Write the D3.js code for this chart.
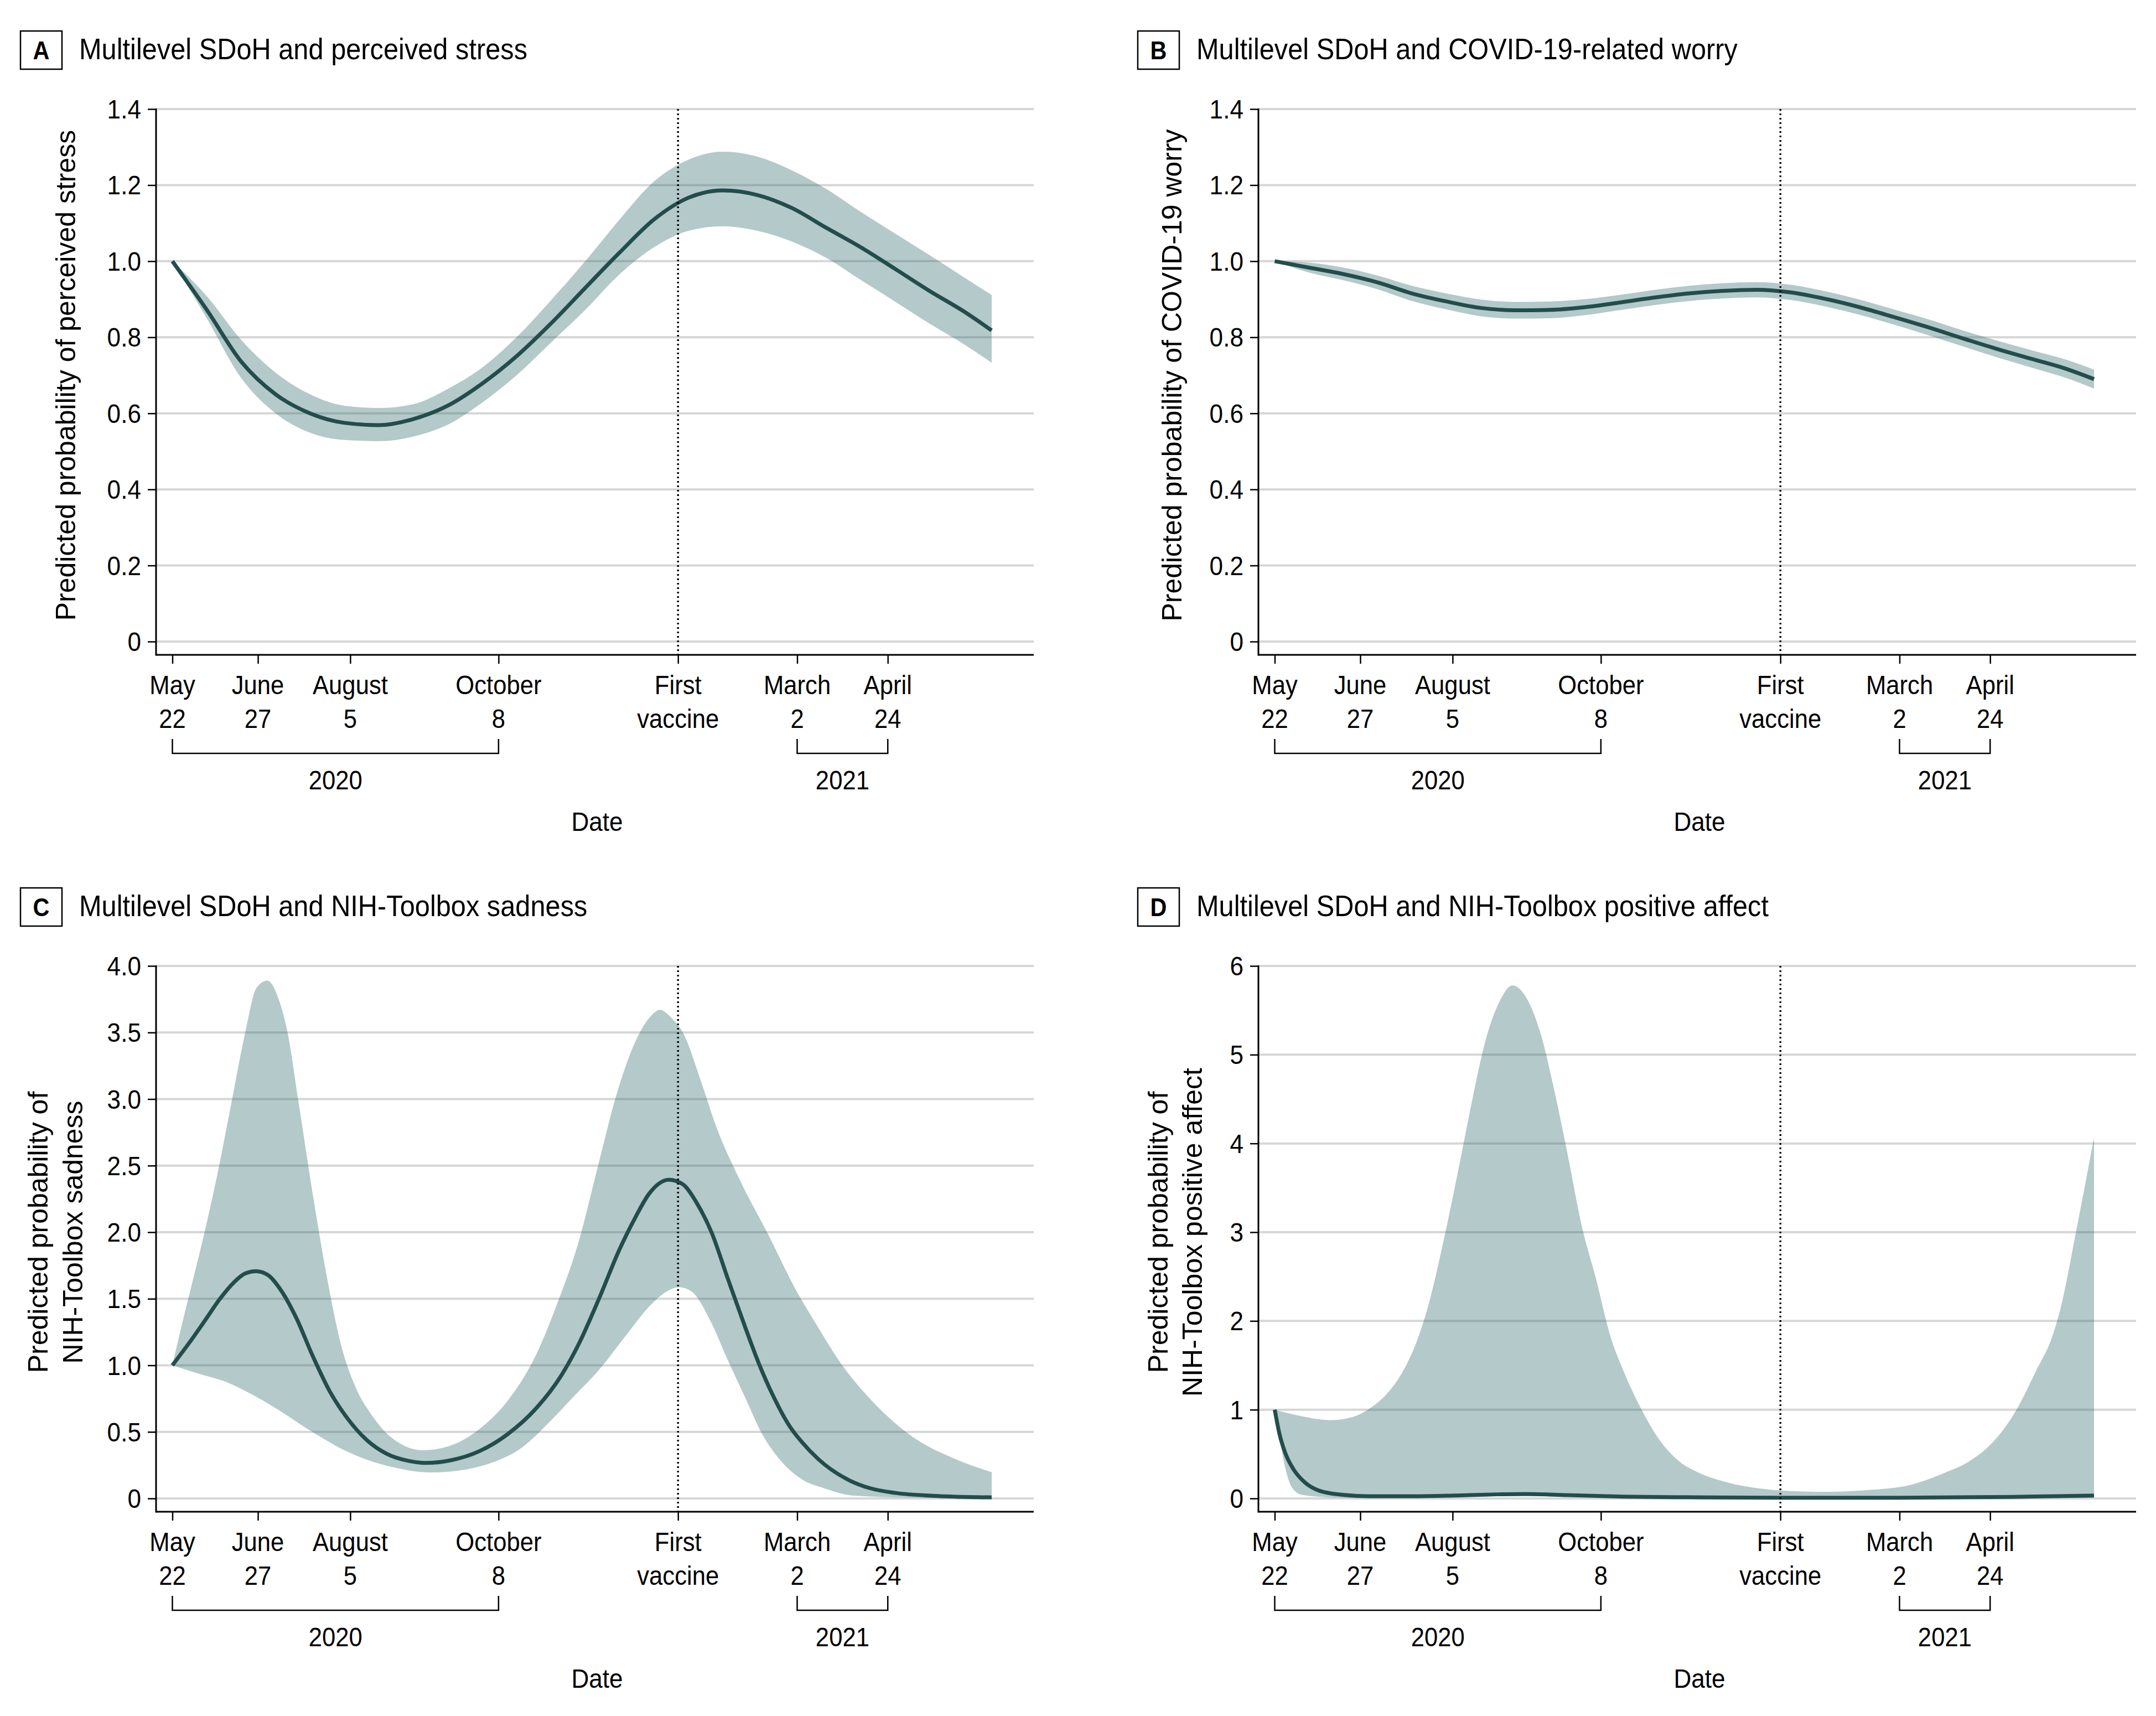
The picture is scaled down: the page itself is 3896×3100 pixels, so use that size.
<!DOCTYPE html>
<html><head><meta charset="utf-8">
<script src="https://cdn.jsdelivr.net/npm/d3@7"></script>
<style>body{margin:0;background:#fff}svg{display:block}</style>
</head><body><svg id="c"></svg>
<script>
// ---------- shared axis data ----------
const tickLabels = [["May","22"],["June","27"],["August","5"],["October","8"],["First","vaccine"],["March","2"],["April","24"]];
const tickPos = [0,10.44,21.71,39.81,61.72,76.26,87.32];
const vaccineT = 61.72;
const years = [{label:"2020", from:0, to:3},{label:"2021", from:5, to:6}];

// ---------- Panel A: perceived stress ----------
const tA = [0,4.2,8.4,12.6,16.8,21,25.2,29.4,33.6,37.8,42,46.2,50.4,54.6,58.8,63,67.2,71.4,75.6,79.8,84,88.2,92.4,96.6,100];
const lineA = [1.0,0.872,0.736,0.65,0.60,0.575,0.569,0.585,0.62,0.678,0.75,0.836,0.93,1.023,1.11,1.167,1.186,1.174,1.14,1.088,1.037,0.98,0.922,0.868,0.818];
const upperA = [1.0,0.908,0.793,0.707,0.65,0.62,0.614,0.624,0.664,0.72,0.80,0.897,1.0,1.11,1.21,1.267,1.288,1.275,1.239,1.19,1.13,1.073,1.016,0.958,0.911];
const lowerA = [1.0,0.85,0.693,0.60,0.549,0.53,0.527,0.539,0.57,0.628,0.70,0.786,0.872,0.966,1.037,1.08,1.092,1.08,1.052,1.009,0.951,0.894,0.836,0.782,0.733];
const yTicksA = [0,0.2,0.4,0.6,0.8,1.0,1.2,1.4];

// ---------- Panel B: COVID-19 worry ----------
const tB = tA;
const lineB = [1.0,0.983,0.966,0.944,0.915,0.894,0.877,0.871,0.872,0.879,0.891,0.904,0.915,0.922,0.925,0.918,0.901,0.879,0.853,0.826,0.797,0.769,0.743,0.717,0.69];
const upperB = [1.0,0.996,0.983,0.962,0.935,0.915,0.899,0.893,0.894,0.9,0.911,0.924,0.935,0.942,0.945,0.938,0.921,0.899,0.873,0.847,0.818,0.791,0.766,0.741,0.715];
const lowerB = [1.0,0.97,0.95,0.926,0.895,0.873,0.855,0.849,0.85,0.858,0.871,0.884,0.895,0.902,0.905,0.898,0.881,0.859,0.833,0.805,0.776,0.747,0.72,0.693,0.665];
const yTicksB = [0,0.2,0.4,0.6,0.8,1.0,1.2,1.4];

// ---------- Panel C: sadness ----------
const tCline = [0,2.0,4.07,5.79,7.51,8.89,10.2,11.65,13.37,15.1,17.16,19.23,21.3,23.7,26.1,28.9,30.9,34.0,37.5,40.9,44.4,47.5,49.6,52.0,54.6,56.5,58.2,60.6,62.3,64.0,65.8,67.8,69.9,71.6,73.3,75.4,76.8,78.9,82.7,85.1,88.2,93.3,100];
const lineC = [1.0,1.164,1.345,1.498,1.623,1.69,1.707,1.679,1.553,1.359,1.066,0.802,0.607,0.44,0.337,0.281,0.267,0.287,0.356,0.482,0.677,0.927,1.16,1.49,1.874,2.11,2.29,2.394,2.36,2.22,2.0,1.65,1.289,1.011,0.774,0.537,0.426,0.292,0.134,0.078,0.042,0.019,0.008];
const tCupper = [0,1.14,2.34,3.89,5.44,7.17,8.89,10.27,11.58,13.03,14.06,15.44,17.33,18.9,20.6,22.3,24.4,26.8,30.6,34.0,37.5,40.9,44.4,47.1,49.6,52.0,54.1,56.5,58.5,59.5,60.9,62.3,64.7,66.4,69.2,72.7,76.1,78.5,81.96,85.4,89.9,95.7,100];
const upperC = [1.0,1.30,1.60,1.99,2.42,2.96,3.50,3.836,3.89,3.74,3.50,2.96,2.21,1.65,1.15,0.844,0.621,0.454,0.362,0.398,0.523,0.732,1.08,1.484,1.93,2.51,3.01,3.43,3.63,3.67,3.61,3.50,3.10,2.79,2.40,1.985,1.567,1.317,0.983,0.732,0.482,0.292,0.198];
const tClower = [0,3.03,6.48,9.92,13.37,16.8,20.3,23.7,27.2,31.6,35.8,39.2,42.7,46.1,48.9,52.0,55.3,58.2,60.3,61.8,63.4,65.8,67.8,69.9,72.0,74.4,77.1,79.5,83.0,89.9,100];
const lowerC = [1.0,0.941,0.877,0.774,0.649,0.51,0.384,0.292,0.231,0.195,0.217,0.273,0.384,0.579,0.76,0.96,1.219,1.442,1.553,1.587,1.553,1.317,1.038,0.76,0.482,0.273,0.134,0.078,0.022,0.006,0.0];
const yTicksC = [0,0.5,1.0,1.5,2.0,2.5,3.0,3.5,4.0];

// ---------- Panel D: positive affect ----------
const tDline = [0,0.59,1.28,2.31,3.69,5.41,8.17,11.6,16.8,22.0,27.1,30.6,35.7,42.6,51.9,62.2,76,89.8,95,100];
const lineD = [1.0,0.723,0.514,0.326,0.18,0.088,0.042,0.025,0.025,0.033,0.046,0.05,0.038,0.021,0.013,0.008,0.008,0.017,0.025,0.033];
const tDupper = [0,3.0,6.79,9.55,11.6,13.7,15.75,17.5,18.85,20.6,22.3,24.0,25.7,27.5,29.0,30.9,32.6,34.0,35.7,37.5,39.2,40.9,42.6,44.7,46.8,49.5,51.9,55.3,58.8,62.2,67.4,72.6,77.7,82.2,84.6,87.7,90.5,92.9,95.0,95.8,97.9,100];
const upperD = [1.0,0.932,0.882,0.919,1.015,1.18,1.45,1.81,2.21,2.90,3.65,4.44,5.15,5.61,5.78,5.61,5.19,4.65,3.90,3.06,2.48,1.85,1.43,1.015,0.681,0.409,0.284,0.18,0.117,0.088,0.075,0.096,0.155,0.305,0.409,0.639,0.994,1.433,1.85,2.10,3.05,4.07];
const tDlower = [0,0.59,1.28,2.14,3.34,6.44,11.6,16.8,22.0,27.1,30.6,35.7,42.6,51.9,62.2,76,89.8,95,100];
const lowerD = [1.0,0.68,0.347,0.117,0.04,0.013,0.004,0.01,0.015,0.025,0.028,0.02,0.008,0.003,0.002,0.002,0.004,0.006,0.01];
const yTicksD = [0,1,2,3,4,5,6];

// ---------- layout ----------
const W = 3896, H = 3100;
const FONT = "'Liberation Sans', Arial, Helvetica, sans-serif";
const BAND = "rgb(40,100,100)", LINE = "#234d4d";
const fmt1 = d => d === 0 ? "0" : d.toFixed(1);
const SX = 0.9;       // horizontal condensing of label text
const SX_T = 0.92;    // horizontal condensing of titles

const panels = [
  {letter:"A", title:"Multilevel SDoH and perceived stress", ylab:["Predicted probability of perceived stress"],
   col:0, row:0, yMax:1.4, yTicks:yTicksA, fmt:fmt1,
   line:[tA,lineA], upper:[tA,upperA], lower:[tA,lowerA]},
  {letter:"B", title:"Multilevel SDoH and COVID-19-related worry", ylab:["Predicted probability of COVID-19 worry"],
   col:1, row:0, yMax:1.4, yTicks:yTicksB, fmt:fmt1,
   line:[tB,lineB], upper:[tB,upperB], lower:[tB,lowerB]},
  {letter:"C", title:"Multilevel SDoH and NIH-Toolbox sadness", ylab:["Predicted probability of","NIH-Toolbox sadness"],
   col:0, row:1, yMax:4.0, yTicks:yTicksC, fmt:fmt1,
   line:[tCline,lineC], upper:[tCupper,upperC], lower:[tClower,lowerC]},
  {letter:"D", title:"Multilevel SDoH and NIH-Toolbox positive affect", ylab:["Predicted probability of","NIH-Toolbox positive affect"],
   col:1, row:1, yMax:6, yTicks:yTicksD, fmt:d3.format("d"),
   line:[tDline,lineD], upper:[tDupper,upperD], lower:[tDlower,lowerD]}
];

const colGeom = [
  {axisX:282, boxX:37, titleX:143, ylab1:[136], ylab2:[86,149]},
  {axisX:2274, boxX:2056, titleX:2162, ylab1:[2135], ylab2:[2110,2172]}
];
const ROW_OFF = [0, 1548];

const svg = d3.select("#c").attr("width", W).attr("height", H)
  .attr("viewBox", `0 0 ${W} ${H}`).style("font-family", FONT);
svg.append("rect").attr("width", W).attr("height", H).attr("fill", "#fff");

function pts(series){ return series[0].map((t,i)=>[t, series[1][i]]); }
function label(g, x, y, s, size, anchor, sx){
  return g.append("text").attr("transform", `translate(${x},${y}) scale(${sx},1)`)
    .attr("text-anchor", anchor).attr("font-size", size).attr("fill", "#000").text(s);
}

panels.forEach(p => {
  const cg = colGeom[p.col], oy = ROW_OFF[p.row];
  const g = svg.append("g");
  const axisX = cg.axisX, rightX = axisX + 1586;
  const topY = 197 + oy, zeroY = 1159 + oy, axisY = 1183 + oy;

  const x = d3.scaleLinear().domain([0,100]).range([axisX + 29.5, axisX + 1510]);
  const y = d3.scaleLinear().domain([0,p.yMax]).range([zeroY, topY]);

  // title box + title
  g.append("rect").attr("x", cg.boxX).attr("y", 56 + oy).attr("width", 75).attr("height", 69)
    .attr("fill", "none").attr("stroke", "#000").attr("stroke-width", 2.5);
  label(g, cg.boxX + 37.5, 107 + oy, p.letter, 46, "middle", 0.9).attr("font-weight", "bold");
  label(g, cg.titleX, 107 + oy, p.title, 53, "start", SX_T);

  // gridlines
  g.append("g").selectAll("line").data(p.yTicks).join("line")
    .attr("x1", axisX).attr("x2", rightX).attr("y1", d => y(d)).attr("y2", d => y(d))
    .attr("stroke", "#d6d6d6").attr("stroke-width", 4);

  // band
  const lg = d3.line().x(d => x(d[0])).y(d => y(d[1])).curve(d3.curveMonotoneX);
  const up = pts(p.upper), lo = pts(p.lower).reverse();
  g.append("path").attr("d", lg(up) + "L" + lg(lo).slice(1) + "Z")
    .attr("fill", BAND).attr("fill-opacity", 0.35).attr("stroke", "none");

  // estimate line
  g.append("path").attr("d", lg(pts(p.line))).attr("fill", "none")
    .attr("stroke", LINE).attr("stroke-width", 7).attr("stroke-linejoin", "round");

  // vaccine dotted line
  g.append("line").attr("x1", x(vaccineT)).attr("x2", x(vaccineT)).attr("y1", topY).attr("y2", axisY)
    .attr("stroke", "#000").attr("stroke-width", 3.5).attr("stroke-dasharray", "3,5");

  // y axis ticks (via axis generator) + labels
  const ya = g.append("g").attr("transform", `translate(${axisX},0)`)
    .call(d3.axisLeft(y).tickValues(p.yTicks).tickFormat("").tickSize(15));
  ya.select(".domain").remove();
  ya.selectAll(".tick line").attr("stroke", "#000").attr("stroke-width", 2.5);
  p.yTicks.forEach(d => label(g, axisX - 27, y(d) + 17, p.fmt(d), 48, "end", 0.92));
  g.append("line").attr("x1", axisX).attr("x2", axisX).attr("y1", topY - 1).attr("y2", axisY + 1.5)
    .attr("stroke", "#000").attr("stroke-width", 3);

  // x axis
  const xa = g.append("g").attr("transform", `translate(0,${axisY})`)
    .call(d3.axisBottom(x).tickValues(tickPos).tickFormat("").tickSize(16).tickSizeOuter(0));
  xa.select(".domain").remove();
  xa.selectAll(".tick line").attr("stroke", "#000").attr("stroke-width", 2.5);
  g.append("line").attr("x1", axisX).attr("x2", rightX).attr("y1", axisY).attr("y2", axisY)
    .attr("stroke", "#000").attr("stroke-width", 3);

  // two-line tick labels
  tickPos.forEach((t,i) => {
    tickLabels[i].forEach((s,j) => label(g, x(t), 1254 + j*61 + oy, s, 48.5, "middle", SX));
  });

  // year brackets
  years.forEach(yr => {
    const x0 = x(tickPos[yr.from]), x1 = x(tickPos[yr.to]);
    const by0 = 1335 + oy, by1 = 1361 + oy;
    g.append("path").attr("d", `M${x0},${by0}V${by1}H${x1}V${by0}`)
      .attr("fill", "none").attr("stroke", "#000").attr("stroke-width", 2.5);
    label(g, (x0 + x1)/2, 1426 + oy, yr.label, 48.5, "middle", SX);
  });

  // x axis title
  label(g, (axisX + rightX)/2 + 4, 1501 + oy, "Date", 49, "middle", SX);

  // y axis title
  const cy = (topY + zeroY)/2;
  const bases = p.ylab.length === 1 ? cg.ylab1 : cg.ylab2;
  p.ylab.forEach((s,i) => {
    g.append("text").attr("transform", `translate(${bases[i]},${cy}) rotate(-90)`)
      .attr("text-anchor", "middle").attr("font-size", 50).attr("fill", "#000").text(s);
  });
});
</script>
</body></html>
